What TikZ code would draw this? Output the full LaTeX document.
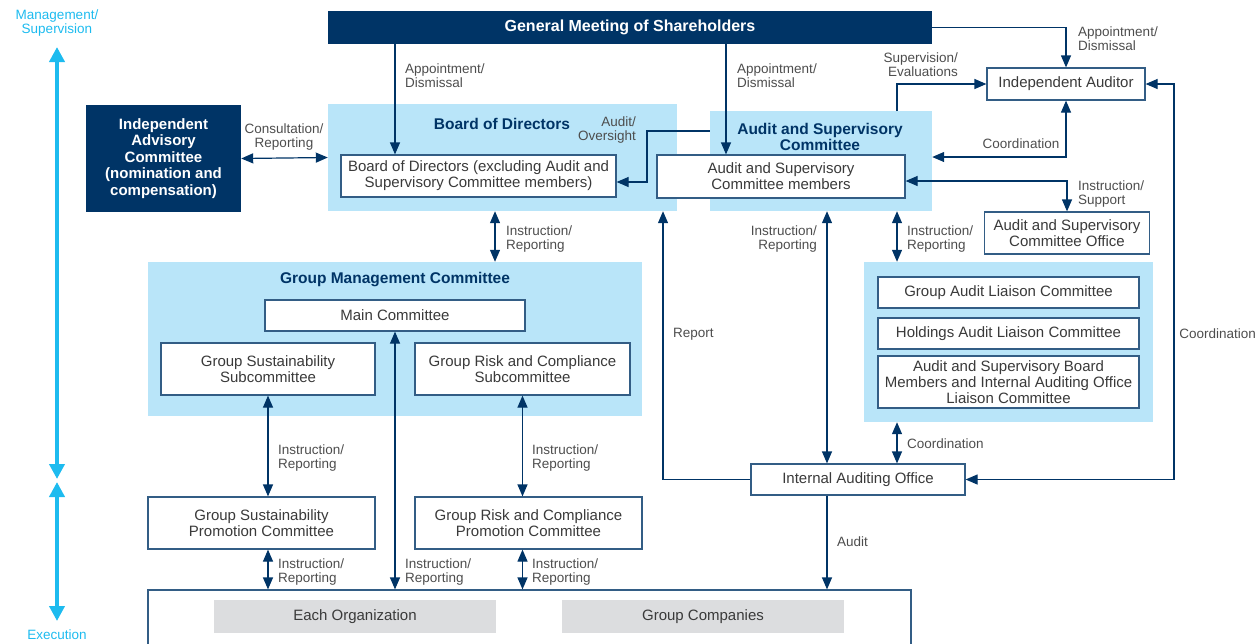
\documentclass[tikz,border=0pt]{standalone}
\usepackage{fontspec}
\setmainfont{Liberation Sans}
\usepackage{xcolor}
\usetikzlibrary{arrows.meta,positioning}

\definecolor{navy}{HTML}{003466}
\definecolor{skyfill}{HTML}{B9E5F9}
\definecolor{cyanline}{HTML}{1DBBEF}
\definecolor{labelgray}{HTML}{4D4D4D}
\definecolor{boxtext}{HTML}{3A3A3A}
\definecolor{orggray}{HTML}{DCDDDF}

\begin{document}
\begin{tikzpicture}[x=1pt, y=-1pt,
    darkbox/.style={fill=navy, text=white, font=\fontsize{15}{16.5}\selectfont\bfseries, align=center, inner sep=0pt},
    region/.style={fill=skyfill, inner sep=0pt},
    whitebox/.style={draw=navy!80, line width=1.2pt, fill=white, text=boxtext, font=\fontsize{15}{16}\selectfont, align=center, inner sep=0pt},
    orgbox/.style={fill=orggray, text=boxtext, font=\fontsize{15}{16}\selectfont, inner sep=0pt},
    title/.style={text=navy, font=\fontsize{15.5}{16}\selectfont\bfseries, align=center, inner sep=0pt},
    lbl/.style={text=labelgray, font=\fontsize{13.5}{14}\selectfont, align=left, inner sep=0pt},
    arr/.style={draw=navy, line width=1.2pt, -{Triangle[length=12pt,width=10pt]}},
    dbl/.style={draw=navy, line width=1.2pt, {Triangle[length=12pt,width=10pt]}-{Triangle[length=12pt,width=10pt]}},
    sidearr/.style={draw=cyanline, line width=4.5pt, {Triangle[length=15pt,width=15pt]}-{Triangle[length=15pt,width=15pt]}}]
    \useasboundingbox (0,0) rectangle (1257,643);

    % Shareholders and advisory committee
    \node[darkbox, minimum width=604, minimum height=33, font=\fontsize{16}{17}\selectfont\bfseries] (gms) at (630,27.5) {General Meeting of Shareholders};
    \node[darkbox, minimum width=155, minimum height=107] (iac) at (163.5,158.5) {Independent\\Advisory\\Committee\\(nomination and\\compensation)};

    % Board of Directors
    \node[region, minimum width=349, minimum height=107] (bodr) at (502.5,157.5) {};
    \node[title] (bodt) at (502,123.5) {Board of Directors};
    \node[whitebox, minimum width=275, minimum height=42] (bodb) at (478.5,176) {Board of Directors (excluding Audit and\\Supervisory Committee members)};

    % Audit and Supervisory Committee
    \node[region, minimum width=222, minimum height=100] (ascr) at (821,161) {};
    \node[title] (asct) at (820,137) {Audit and Supervisory\\Committee};
    \node[whitebox, minimum width=248, minimum height=43] (ascb) at (781,176.5) {Audit and Supervisory\\Committee members};

    % Auditor side
    \node[whitebox, minimum width=158, minimum height=32] (aud) at (1066,84) {Independent Auditor};
    \node[whitebox, minimum width=165, minimum height=42] (aso) at (1067,233) {Audit and Supervisory\\Committee Office};

    % Group Management Committee
    \node[region, minimum width=494, minimum height=154] (gmcr) at (395,339) {};
    \node[title] (gmct) at (395,280) {Group Management Committee};
    \node[whitebox, minimum width=260, minimum height=31] (mc) at (395,315.5) {Main Committee};
    \node[whitebox, minimum width=214, minimum height=52] (gss) at (268,369) {Group Sustainability\\Subcommittee};
    \node[whitebox, minimum width=215, minimum height=52] (grc) at (522.5,369) {Group Risk and Compliance\\Subcommittee};

    % Promotion committees and organizations
    \node[whitebox, minimum width=227, minimum height=52] (gsp) at (261.5,523) {Group Sustainability\\Promotion Committee};
    \node[whitebox, minimum width=227, minimum height=52] (grp) at (528.5,523) {Group Risk and Compliance\\Promotion Committee};
    \node[whitebox, minimum width=763, minimum height=70] (orgs) at (529.5,625) {};
    \node[orgbox, minimum width=282, minimum height=33] (eo) at (355,616.5) {Each Organization};
    \node[orgbox, minimum width=282, minimum height=33] (gc) at (703,616.5) {Group Companies};

    % Liaison committees
    \node[region, minimum width=289, minimum height=160] (lsr) at (1008.5,342) {};
    \node[whitebox, minimum width=261, minimum height=31] (gal) at (1008.5,292.5) {Group Audit Liaison Committee};
    \node[whitebox, minimum width=261, minimum height=31] (hal) at (1008.5,333.5) {Holdings Audit Liaison Committee};
    \node[whitebox, minimum width=261, minimum height=52] (asb) at (1008.5,382) {Audit and Supervisory Board\\Members and Internal Auditing Office\\Liaison Committee};
    \node[whitebox, minimum width=214, minimum height=31] (iao) at (858,479.5) {Internal Auditing Office};

    % Helper x positions
    \coordinate (apL) at (395,0);
    \coordinate (apR) at (726,0);
    \coordinate (sv) at (897,111);
    \coordinate (ao) at (647,131);
    \coordinate (ir) at (495,0);
    \coordinate (ia) at (827,0);
    \coordinate (lx) at (897,0);
    \coordinate (rp) at (663,0);
    \coordinate (cr) at (1174,0);

    % Connectors
    \draw[arr] (apL |- gms.south) -- (apL |- bodb.north);
    \draw[arr] (apR |- gms.south) -- (apR |- ascb.north);
    \draw[arr] (gms.east) -| (aud.north);
    \draw[arr] (sv) |- (aud.west);
    \draw[dbl] ([yshift=4pt]ascr.east) -| (aud.south);
    \draw[dbl] ([yshift=-4.5pt]ascb.east) -| (aso.north);
    \draw[dbl] (iao.east) -| (cr |- aud.east) -- (aud.east);
    \draw[arr] (ascr.west |- ao) -- (ao) |- ([yshift=-6pt]bodb.east);
    \draw[dbl] (iac.east) -- (bodr.west);
    \draw[dbl] (ir |- bodr.south) -- (ir |- gmcr.north);
    \draw[dbl] (ia |- ascr.south) -- (ia |- iao.north);
    \draw[dbl] (lx |- ascr.south) -- (lx |- lsr.north);
    \draw[dbl] (lx |- lsr.south) -- (lx |- iao.north);
    \draw[arr] (iao.west) -| (rp |- bodr.south);
    \draw[arr] (ia |- iao.south) -- (ia |- orgs.north);
    \draw[dbl] (gss.south) -- (gss.south |- gsp.north);
    \draw[dbl] (grc.south) -- (grc.south |- grp.north);
    \draw[dbl] (gss.south |- gsp.south) -- (gss.south |- orgs.north);
    \draw[dbl] (grc.south |- grp.south) -- (grc.south |- orgs.north);
    \draw[dbl] (mc.south) -- (mc.south |- orgs.north);

    % Connector labels
    \node[lbl, anchor=west] (l1) at (405,76) {Appointment/\\Dismissal};
    \node[lbl, anchor=west] (l2) at (737,76) {Appointment/\\Dismissal};
    \node[lbl, anchor=west] (l3) at (1078,39) {Appointment/\\Dismissal};
    \node[lbl, anchor=east, align=right] (l4) at (958,65) {Supervision/\\Evaluations};
    \node[lbl, align=center] (l5) at (284,137) {Consultation/\\Reporting};
    \node[lbl, anchor=east, align=right] (l6) at (636,130) {Audit/\\Oversight};
    \node[lbl] (l7) at (1021,144) {Coordination};
    \node[lbl, anchor=west] (l8) at (1078,194) {Instruction/\\Support};
    \node[lbl, anchor=west] (l9) at (506,239) {Instruction/\\Reporting};
    \node[lbl, anchor=east, align=right] (l10) at (817,239) {Instruction/\\Reporting};
    \node[lbl, anchor=west] (l11) at (907,239) {Instruction/\\Reporting};
    \node[lbl, anchor=west] (l12) at (673,334) {Report};
    \node[lbl, anchor=west] (l13) at (907,444) {Coordination};
    \node[lbl, anchor=west] (l14) at (837,542) {Audit};
    \node[lbl, anchor=east] (l15) at (1256,334) {Coordination};
    \node[lbl, anchor=west] (l16) at (278,458) {Instruction/\\Reporting};
    \node[lbl, anchor=west] (l17) at (532,458) {Instruction/\\Reporting};
    \node[lbl, anchor=west] (l18) at (278,572) {Instruction/\\Reporting};
    \node[lbl, anchor=west] (l19) at (405,572) {Instruction/\\Reporting};
    \node[lbl, anchor=west] (l20) at (532,572) {Instruction/\\Reporting};

    % Management / Execution scale
    \node[lbl, text=cyanline, align=center] (mgmt) at (57,23) {Management/\\Supervision};
    \node[lbl, text=cyanline] (exec) at (57,635) {Execution};
    \coordinate (s1) at (57,47);
    \coordinate (s2) at (57,479);
    \coordinate (s3) at (57,482);
    \coordinate (s4) at (57,621);
    \draw[sidearr] (s1) -- (s2);
    \draw[sidearr] (s3) -- (s4);
\end{tikzpicture}
\end{document}
